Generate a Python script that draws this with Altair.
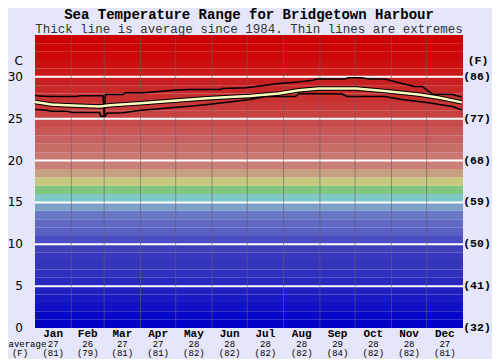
import altair as alt
import pandas as pd

W, H = 428, 293

# background colour bands, one per degree C (index 0 = 0-1 C ... 34 = 34-35 C)
band_colors = [
    "#0000c8", "#0808c8", "#1010c4", "#1818c4", "#2020c0",
    "#2828c0", "#3030c0", "#3434bc", "#3838bc", "#4040bc",
    "#4c4cc4", "#5860c4", "#6068c4", "#6878c4", "#7ea0c8",
    "#80c8c8", "#80c880", "#c8c880", "#c8a080", "#c88078",
    "#c87870", "#c86c68", "#c86060", "#c85858", "#c84c4c",
    "#c84040", "#c83838", "#c83030", "#c82828", "#c82020",
    "#cc1818", "#cc1010", "#cc0808", "#cc0404", "#cc0000",
]

month_names = ["Jan", "Feb", "Mar", "Apr", "May", "Jun",
               "Jul", "Aug", "Sep", "Oct", "Nov", "Dec"]
month_mid = [15.5, 45, 74.5, 105, 135.5, 166, 196.5, 227.5, 258, 288.5, 319, 349.5]
month_edges = [31, 59, 90, 120, 151, 181, 212, 243, 273, 304, 334]
avg_c = [27, 26, 27, 27, 28, 28, 28, 28, 29, 28, 28, 27]
avg_f = [81, 79, 81, 81, 82, 82, 82, 82, 84, 82, 82, 81]

c_ticks = [0, 5, 10, 15, 20, 25, 30]
f_labels = ["(32)", "(41)", "(50)", "(59)", "(68)", "(77)", "(86)"]

avg_day = [0, 14, 27, 55, 64, 90, 118, 147, 166, 183, 208, 225, 242, 274, 298, 327, 345, 364]
avg_val = [27.0, 26.7, 26.6, 26.45, 26.6, 26.85, 27.15, 27.45, 27.6, 27.7, 28.0, 28.4,
           28.6, 28.6, 28.3, 27.9, 27.5, 26.95]

max_day = [0, 3, 14, 36, 38, 58, 59, 60, 75, 77, 93, 100, 118, 132, 158, 160, 180, 197,
           208, 225, 237, 240, 265, 267, 278, 285, 298, 313, 324, 330, 339, 356, 364]
max_val = [27.8, 27.7, 27.65, 27.65, 27.75, 27.75, 25.4, 27.9, 27.9, 28.1, 28.1, 28.2,
           28.4, 28.5, 28.5, 28.6, 28.7, 29.0, 29.2, 29.4, 29.6, 29.75, 29.75, 29.9,
           29.9, 29.75, 29.75, 29.2, 28.85, 28.85, 27.95, 27.9, 27.6]

min_day = [0, 10, 14, 27, 32, 55, 56, 60, 61, 75, 90, 104, 118, 132, 147, 166, 183, 197,
           222, 225, 262, 266, 298, 313, 334, 356, 364]
min_val = [26.1, 26.0, 25.9, 25.9, 25.75, 25.75, 25.3, 25.3, 25.65, 25.7, 26.0, 26.15,
           26.35, 26.5, 26.7, 27.0, 27.3, 27.65, 27.65, 28.0, 27.95, 27.65, 27.65, 27.3,
           26.95, 26.45, 26.05]

MONO = "Liberation Mono"
SANS = "DejaVu Sans"

xs = alt.Scale(domain=[0, 365], nice=False, zero=False)
ys = alt.Scale(domain=[0, 35], nice=False, zero=True)

bands = pd.DataFrame({
    "lo": list(range(len(band_colors))),
    "hi": [i + 1 for i in range(len(band_colors))],
    "col": band_colors,
})
band_layer = alt.Chart(bands).mark_rect(strokeWidth=0).encode(
    y=alt.Y("lo:Q", scale=ys, axis=None),
    y2="hi:Q",
    x=alt.value(0), x2=alt.value(W),
    color=alt.Color("col:N", scale=None),
)

hgrid = alt.Chart(pd.DataFrame({"t": c_ticks[1:]})).mark_rule(
    color="white", strokeWidth=2).encode(
    y=alt.Y("t:Q", scale=ys, axis=None), x=alt.value(0), x2=alt.value(W))

vgrid = alt.Chart(pd.DataFrame({"d": month_edges})).mark_rule(
    color="#606060", strokeWidth=1, opacity=0.6).encode(
    x=alt.X("d:Q", scale=xs, axis=None), y=alt.value(0), y2=alt.value(H))

maxdf = pd.DataFrame({"day": max_day, "v": max_val})
mindf = pd.DataFrame({"day": min_day, "v": min_val})
avgdf = pd.DataFrame({"day": avg_day, "v": avg_val})

def line(df, color, width):
    return alt.Chart(df).mark_line(color=color, strokeWidth=width, strokeJoin="round").encode(
        x=alt.X("day:Q", scale=xs, axis=None),
        y=alt.Y("v:Q", scale=ys, axis=None))

max_line = line(maxdf, "#000000", 1.5)
min_line = line(mindf, "#000000", 1.5)
avg_outline = line(avgdf, "#000000", 4.5)
avg_core = line(avgdf, "#ffffc0", 2.5)

one = pd.DataFrame({"a": [0]})

left_lab = alt.Chart(pd.DataFrame({"t": c_ticks})).mark_text(
    font=SANS, fontSize=12, align="right", baseline="middle", color="#000").encode(
    y=alt.Y("t:Q", scale=ys, axis=None), x=alt.value(-12), text="t:Q")
c_lab = alt.Chart(one).mark_text(font=SANS, fontSize=12, align="right", baseline="middle",
                                 text="C", color="#000").encode(x=alt.value(-12), y=alt.value(26))

right_lab = alt.Chart(pd.DataFrame({"t": c_ticks, "lab": f_labels})).mark_text(
    font=MONO, fontSize=11.5, fontWeight="bold", align="center", baseline="middle",
    color="#000").encode(
    y=alt.Y("t:Q", scale=ys, axis=None), x=alt.value(442), text="lab:N")
f_lab = alt.Chart(one).mark_text(font=MONO, fontSize=11.5, fontWeight="bold", align="center",
                                 baseline="middle", text="(F)", color="#000").encode(
    x=alt.value(443), y=alt.value(26))

mdf = pd.DataFrame({"m": month_names, "mid": month_mid,
                    "c": [str(v) for v in avg_c],
                    "f": ["(%d)" % v for v in avg_f]})
month_lab = alt.Chart(mdf).mark_text(font=MONO, fontSize=11, fontWeight="bold",
                                     align="center", baseline="middle", color="#000").encode(
    x=alt.X("mid:Q", scale=xs, axis=None), y=alt.value(299), text="m:N")
avgc_lab = alt.Chart(mdf).mark_text(font=MONO, fontSize=9, align="center",
                                    baseline="middle", color="#000").encode(
    x=alt.X("mid:Q", scale=xs, axis=None), y=alt.value(308.5), text="c:N")
avgf_lab = alt.Chart(mdf).mark_text(font=MONO, fontSize=9, align="center",
                                    baseline="middle", color="#000").encode(
    x=alt.X("mid:Q", scale=xs, axis=None), y=alt.value(318), text="f:N")
average_lab = alt.Chart(one).mark_text(font=MONO, fontSize=9, align="left",
                                       baseline="middle", text="average", color="#000").encode(
    x=alt.value(-26.5), y=alt.value(308.5))
avgF_lab = alt.Chart(one).mark_text(font=MONO, fontSize=9, align="center",
                                    baseline="middle", text="(F)", color="#000").encode(
    x=alt.value(-15), y=alt.value(318))

title_lab = alt.Chart(one).mark_text(font=MONO, fontSize=14, fontWeight="bold",
                                     align="center", baseline="middle", color="#000",
                                     text="Sea Temperature Range for Bridgetown Harbour").encode(
    x=alt.value(214), y=alt.value(-20.5))
sub_lab = alt.Chart(one).mark_text(font=MONO, fontSize=12.5, align="center",
                                   baseline="middle", color="#333333",
                                   text="Thick line is average since 1984. Thin lines are extremes").encode(
    x=alt.value(214), y=alt.value(-6))

chart = alt.layer(
    band_layer, hgrid, vgrid, max_line, min_line, avg_outline, avg_core,
    left_lab, c_lab, right_lab, f_lab, month_lab, avgc_lab, avgf_lab,
    average_lab, avgF_lab, title_lab, sub_lab,
).properties(
    width=W, height=H,
    autosize=alt.AutoSizeParams(type="none"),
    padding={"left": 27, "top": 27, "right": 29, "bottom": 31},
    background="#e6e6fa",
).configure_view(stroke=None)

chart.save("out.html", embed_options={"renderer": "svg", "actions": False})
